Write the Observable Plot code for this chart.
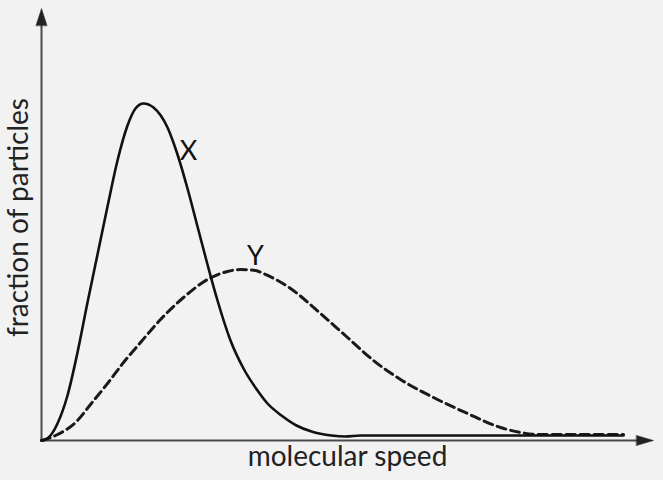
<!DOCTYPE html>
<html>
<head>
<meta charset="utf-8">
<script src="https://cdn.jsdelivr.net/npm/d3@7"></script>
<script src="https://cdn.jsdelivr.net/npm/@observablehq/plot@0.6"></script>
<style>
  html, body { margin: 0; padding: 0; background: #f2f2f2; }
  #chart svg { display: block; }
</style>
</head>
<body>
<div id="chart"></div>
<script>
// Molecular speed (arbitrary units) vs fraction of particles (arbitrary units)
const speedX = [0, 4, 9, 16, 26, 36, 46, 56, 66, 76, 86, 94, 102, 112, 126, 136, 146, 156, 166, 176, 189, 202, 216, 226, 240, 255, 270, 290, 304, 319, 582];
const fracX  = [0, 1, 5, 17, 45, 88, 138, 186, 234, 280, 315, 332, 337, 333, 313, 286, 252, 214, 176, 140, 100, 72, 50, 37, 25, 15, 9, 5, 4, 5, 5];

const speedY = [0, 14, 36, 49, 66, 82, 99, 119, 142, 166, 186, 199, 214, 222, 249, 279, 306, 332, 359, 392, 426, 459, 479, 499, 582];
const fracY  = [0, 5, 20, 36, 57, 78, 98, 121, 143, 161, 169, 171, 170, 167, 152, 127, 103, 80, 61, 43, 27, 13, 8, 6, 6];

const curveLabels = ["X", "Y"];
const curveLabelSpeed = [147, 214];
const curveLabelFrac = [289, 184];

const xTitle = "molecular speed";
const yTitle = "fraction of particles";

const seriesX = speedX.map((s, i) => ({speed: s, frac: fracX[i]}));
const seriesY = speedY.map((s, i) => ({speed: s, frac: fracY[i]}));
const labelData = curveLabels.map((t, i) => ({t, speed: curveLabelSpeed[i], frac: curveLabelFrac[i]}));

const head = {
  draw(ctx, l, r) {
    ctx.moveTo(-r, 0);
    ctx.lineTo(0, -l);
    ctx.lineTo(r, 0);
    ctx.closePath();
  }
};

const font = "Lato, 'Open Sans', sans-serif";

const chart = Plot.plot({
  width: 663,
  height: 480,
  marginLeft: 41,
  marginRight: 10,
  marginTop: 8,
  marginBottom: 40,
  x: {domain: [0, 612], axis: null},
  y: {domain: [0, 432], axis: null},
  style: {background: "#f2f2f2", fontFamily: font},
  marks: [
    Plot.ruleY([0], {x1: 0, x2: 596, stroke: "#4a4a4a", strokeWidth: 2}),
    Plot.ruleX([0], {y1: 0, y2: 416, stroke: "#4a4a4a", strokeWidth: 2}),
    Plot.vector([0], {x: 0, y: 415, length: 17, r: 5.5, rotate: 0, anchor: "start", shape: head, fill: "#222", stroke: "#222", strokeWidth: 0.5}),
    Plot.vector([0], {x: 595, y: 0, length: 17, r: 5, rotate: 90, anchor: "start", shape: head, fill: "#222", stroke: "#222", strokeWidth: 0.5}),
    Plot.line(seriesY, {x: "speed", y: "frac", curve: "monotone-x", stroke: "#1a1a1a", strokeWidth: 3, strokeDasharray: "9,5"}),
    Plot.line(seriesX, {x: "speed", y: "frac", curve: "monotone-x", stroke: "#111", strokeWidth: 2.6}),
    Plot.text(labelData, {x: "speed", y: "frac", text: "t", fontSize: 27, fill: "#111", fontFamily: font}),
    Plot.text([xTitle], {frameAnchor: "bottom", x: 306, dy: 25, text: d => d, fontSize: 28, fill: "#222", fontFamily: font}),
    Plot.text([yTitle], {frameAnchor: "left", y: 223, dx: -22, rotate: -90, textAnchor: "middle", text: d => d, fontSize: 28, fill: "#222", fontFamily: font})
  ]
});

document.getElementById("chart").appendChild(chart);
</script>
</body>
</html>
